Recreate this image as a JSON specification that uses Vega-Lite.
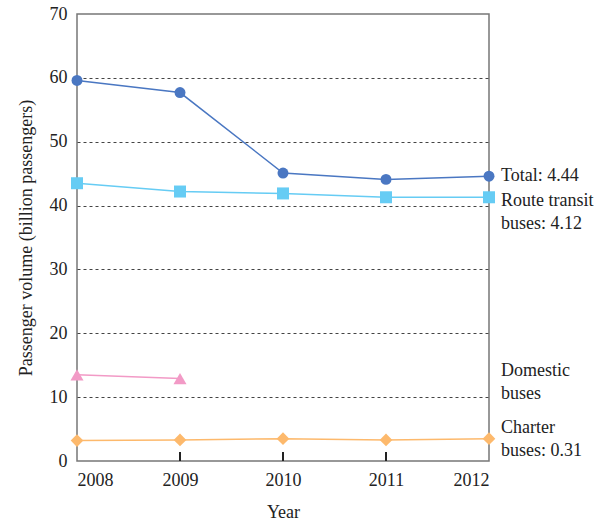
{
  "$schema": "https://vega.github.io/schema/vega-lite/v6.json",
  "width": 412,
  "height": 447,
  "autosize": {"type": "none"},
  "padding": {"left": 77, "top": 14, "right": 117, "bottom": 62},
  "config": {
    "font": "Liberation Serif",
    "view": {"stroke": "#777777", "strokeWidth": 1.5},
    "axis": {"labelFont": "Liberation Serif", "titleFont": "Liberation Serif", "labelColor": "#222222", "titleColor": "#222222", "titleFontWeight": "normal", "labelFontSize": 18, "titleFontSize": 18}
  },
  "datasets": {
    "series": [
      {"year": 2008, "value": 59.6, "series": "Total"},
      {"year": 2009, "value": 57.7, "series": "Total"},
      {"year": 2010, "value": 45.1, "series": "Total"},
      {"year": 2011, "value": 44.1, "series": "Total"},
      {"year": 2012, "value": 44.6, "series": "Total"},
      {"year": 2008, "value": 43.5, "series": "Route transit buses"},
      {"year": 2009, "value": 42.2, "series": "Route transit buses"},
      {"year": 2010, "value": 41.9, "series": "Route transit buses"},
      {"year": 2011, "value": 41.3, "series": "Route transit buses"},
      {"year": 2012, "value": 41.3, "series": "Route transit buses"},
      {"year": 2008, "value": 13.5, "series": "Domestic buses"},
      {"year": 2009, "value": 12.9, "series": "Domestic buses"},
      {"year": 2008, "value": 3.2, "series": "Charter buses"},
      {"year": 2009, "value": 3.3, "series": "Charter buses"},
      {"year": 2010, "value": 3.5, "series": "Charter buses"},
      {"year": 2011, "value": 3.3, "series": "Charter buses"},
      {"year": 2012, "value": 3.5, "series": "Charter buses"}
    ],
    "labels": [
      {"year": 2012, "value": 44.6, "label": "Total: 4.44"},
      {"year": 2012, "value": 40.7, "label": "Route transit\nbuses: 4.12"},
      {"year": 2012, "value": 14.1, "label": "Domestic\nbuses"},
      {"year": 2012, "value": 5.2, "label": "Charter\nbuses: 0.31"}
    ]
  },
  "layer": [
    {
      "data": {"name": "series"},
      "mark": {"type": "line", "strokeWidth": 1.5},
      "encoding": {
        "x": {"field": "year", "type": "quantitative", "scale": {"domain": [2008, 2012], "nice": false, "zero": false},
          "axis": {"values": [2008, 2009, 2010, 2011, 2012], "format": "d", "title": "Year", "grid": false, "domain": false, "ticks": false, "labelPadding": 10, "titlePadding": 14}},
        "y": {"field": "value", "type": "quantitative", "scale": {"domain": [0, 70], "nice": false},
          "axis": {"values": [0, 10, 20, 30, 40, 50, 60, 70], "title": "Passenger volume (billion passengers)", "domain": false, "ticks": false, "labelPadding": 10, "titlePadding": 14,
            "grid": true, "gridColor": "#444444", "gridDash": [3, 3], "gridWidth": 1,
            "gridOpacity": {"condition": {"test": "datum.value == 0 || datum.value == 70", "value": 0}, "value": 1}}},
        "color": {"field": "series", "type": "nominal", "scale": {"domain": ["Total", "Route transit buses", "Domestic buses", "Charter buses"], "range": ["#4A77C2", "#66CCF4", "#F29AC6", "#FDB96C"]}, "legend": null},
        "detail": {"field": "series"}
      }
    },
    {
      "data": {"values": [
        {"year": 2009, "value": 0, "top": 1.4},
        {"year": 2010, "value": 0, "top": 1.4},
        {"year": 2011, "value": 0, "top": 1.4}
      ]},
      "mark": {"type": "rule", "stroke": "#222222", "strokeWidth": 2},
      "encoding": {
        "x": {"field": "year", "type": "quantitative"},
        "y": {"field": "value", "type": "quantitative"},
        "y2": {"field": "top"}
      }
    },
    {
      "data": {"name": "series"},
      "transform": [{"filter": "datum.series == 'Total'"}],
      "mark": {"type": "point", "shape": "circle", "filled": true, "opacity": 1, "size": 120, "color": "#4A77C2"},
      "encoding": {
        "x": {"field": "year", "type": "quantitative"},
        "y": {"field": "value", "type": "quantitative"}
      }
    },
    {
      "data": {"name": "series"},
      "transform": [{"filter": "datum.series == 'Route transit buses'"}],
      "mark": {"type": "point", "shape": "square", "filled": true, "opacity": 1, "size": 144, "color": "#66CCF4"},
      "encoding": {
        "x": {"field": "year", "type": "quantitative"},
        "y": {"field": "value", "type": "quantitative"}
      }
    },
    {
      "data": {"name": "series"},
      "transform": [{"filter": "datum.series == 'Domestic buses'"}],
      "mark": {"type": "point", "shape": "triangle-up", "filled": true, "opacity": 1, "size": 170, "color": "#F29AC6"},
      "encoding": {
        "x": {"field": "year", "type": "quantitative"},
        "y": {"field": "value", "type": "quantitative"}
      }
    },
    {
      "data": {"name": "series"},
      "transform": [{"filter": "datum.series == 'Charter buses'"}],
      "mark": {"type": "point", "shape": "diamond", "filled": true, "opacity": 1, "size": 160, "color": "#FDB96C"},
      "encoding": {
        "x": {"field": "year", "type": "quantitative"},
        "y": {"field": "value", "type": "quantitative"}
      }
    },
    {
      "data": {"name": "labels"},
      "mark": {"type": "text", "align": "left", "baseline": "middle", "dx": 12, "fontSize": 18, "lineBreak": "\n", "lineHeight": 23, "color": "#222222", "font": "Liberation Serif"},
      "encoding": {
        "x": {"field": "year", "type": "quantitative"},
        "y": {"field": "value", "type": "quantitative"},
        "text": {"field": "label"}
      }
    }
  ]
}
